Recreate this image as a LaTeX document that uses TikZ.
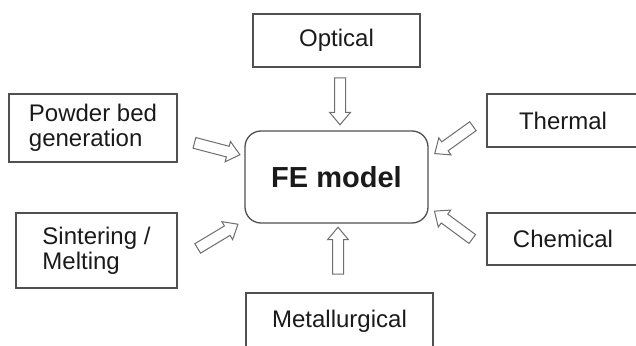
\documentclass[tikz,border=0pt]{standalone}
\usepackage{fontspec}
\setmainfont{Liberation Sans}
\usetikzlibrary{shapes.arrows}
\definecolor{boxgray}{HTML}{505050}
\definecolor{arrgray}{HTML}{6E6E6E}
\definecolor{txtblack}{HTML}{1A1A1A}

\begin{document}
\begin{tikzpicture}[x=1pt,y=-1pt,
  src/.style={draw=boxgray,line width=1.3pt,inner sep=0pt,text=txtblack,font=\fontsize{24}{25}\selectfont},
  feed/.style={single arrow,draw=arrgray,line width=1pt,fill=white,inner xsep=0pt,inner ysep=5pt,
    minimum height=47pt,single arrow head extend=5pt,single arrow tip angle=80,sloped,allow upside down}]
\clip (0,0) rectangle (636,345);
% sources
\node[src,minimum width=167pt,minimum height=53pt] (opt) at (336.5,40.5) {Optical};
\node[src,minimum width=168pt,minimum height=68pt,align=left] (pwd) at (93,128) {Powder bed\\generation};
\node[src,minimum width=161pt,minimum height=75pt,align=left] (sin) at (96.5,250.5) {Sintering /\\Melting};
\node[src,minimum width=152pt,minimum height=53pt] (thm) at (563,120.5) {Thermal};
\node[src,minimum width=152pt,minimum height=52pt] (chm) at (563,239) {Chemical};
\node[src,minimum width=187pt,minimum height=56pt] (met) at (339.5,321) {Metallurgical};
% model
\node[src,rounded corners=16pt,minimum width=183pt,minimum height=92pt,font=\fontsize{29}{32}\selectfont\bfseries] (fe) at (336.5,177) {FE model};
% arrows
\coordinate (optT) at (340,74);  \coordinate (optH) at (340,122);
\coordinate (metT) at (338,277); \coordinate (metH) at (338,231);
\coordinate (pwdT) at (191,142); \coordinate (pwdH) at (237,154);
\coordinate (sinT) at (195,250); \coordinate (sinH) at (235,226);
\coordinate (thmT) at (476,124); \coordinate (thmH) at (437,152);
\coordinate (chmT) at (475,241); \coordinate (chmH) at (437,213);
\foreach \s in {opt,met,pwd,sin,thm,chm}
  \path (\s T) -- node[feed] {} (\s H);
\end{tikzpicture}
\end{document}
